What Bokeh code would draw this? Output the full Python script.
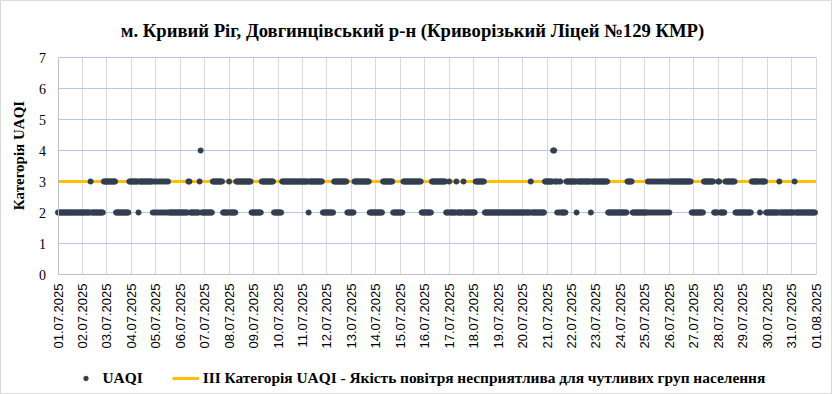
from math import pi
from bokeh.plotting import figure
from bokeh.models import Range1d, FixedTicker, Label, Legend, LegendItem
from bokeh.embed import file_html
from bokeh.resources import INLINE

title_text = "м. Кривий Ріг, Довгинцівський р-н (Криворізький Ліцей №129 КМР)"
y_title = "Категорія UAQI"
series_name = "UAQI"
threshold_name = "III Категорія UAQI - Якість повітря несприятлива для чутливих груп населення"
threshold_value = 3
hours_per_day = 24

date_labels = [
    "01.07.2025", "02.07.2025", "03.07.2025", "04.07.2025", "05.07.2025",
    "06.07.2025", "07.07.2025", "08.07.2025", "09.07.2025", "10.07.2025",
    "11.07.2025", "12.07.2025", "13.07.2025", "14.07.2025", "15.07.2025",
    "16.07.2025", "17.07.2025", "18.07.2025", "19.07.2025", "20.07.2025",
    "21.07.2025", "22.07.2025", "23.07.2025", "24.07.2025", "25.07.2025",
    "26.07.2025", "27.07.2025", "28.07.2025", "29.07.2025", "30.07.2025",
    "31.07.2025", "01.08.2025",
]

y_ticks = [0, 1, 2, 3, 4, 5, 6, 7]

# hourly UAQI category, one string of 24 hourly values per day (spaces only for readability)
uaqi_days = [
    "22222 22222 22222 22222 2222",        # 01.07
    "22222 222 3 22222 22222 22 333",      # 02.07
    "33333 3333 22222 22222 222 33",       # 03.07
    "33333 33 2 33333 33333 333 232",      # 04.07
    "32323 23232 323 22222 22222 2",       # 05.07
    "22222 222 33 22222 2222 3 4 222",     # 06.07
    "22222 222 33333 33333 22222 2",       # 07.07
    "3 22222 2 33333 33333 33333 22",      # 08.07
    "22222 222 33333 33333 33 2222",       # 09.07
    "2222 33333 33333 33333 33333",        # 10.07
    "33333 3 2 33333 33333 333 2222",      # 11.07
    "22222 22 33333 33333 333 2222",       # 12.07
    "222 33333 33333 33333 22222 2",       # 13.07
    "22222 22 33333 33333 22222 22",       # 14.07
    "222 33333 33333 33333 333 222",       # 15.07
    "22222 22 33333 33333 3333 222",       # 16.07
    "3 22222 2 3 22222 2 3 22222 2222",    # 17.07
    "22 33333 3333 22222 22222 222",       # 18.07
    "22222 22222 22222 22222 2222",        # 19.07
    "22222 222 3 22222 22222 222 33",      # 20.07
    "33333 3 44 33 2323 22222 33333",      # 21.07
    "33333 2 33333 33333 333 2 3333",      # 22.07
    "33333 33333 33 22222 22222 22",       # 23.07
    "22222 22 33333 22222 22222 22",       # 24.07
    "222 32323 23232 32323 23232 3",       # 25.07
    "2 33333 33333 33333 33333 3 22",      # 26.07
    "22222 22222 33333 33333 2222",        # 27.07
    "33 22222 33333 33333 22222 22",       # 28.07
    "22222 2222 33333 333 2 33333 2",      # 29.07
    "22222 22222 22 3 22222 22222 2",      # 30.07
    "222 3 22222 22222 22222 22222",       # 31.07
]

day_values = [s.replace(" ", "") for s in uaqi_days]
bad = [i for i, s in enumerate(day_values) if len(s) != hours_per_day]
assert not bad, f"bad day lengths: {[(i, len(day_values[i])) for i in bad]}"
uaqi = [int(c) for s in day_values for c in s]
hours = list(range(len(uaqi)))
n_hours = len(date_labels[:-1]) * hours_per_day
y_max = y_ticks[-1]

SERIF = "'Liberation Serif'"
SANS = "'Liberation Sans'"

# Layout (pixels): the frame fills the whole canvas; the plot area of the
# reference spans x 57.5..815.5 and y 57 (value 7) .. 274 (value 0).
W, H = 832, 394
PX_L, PX_R, PX_TOP, PX_ZERO = 57.5, 815.5, 57, 274
kx = (PX_R - PX_L) / n_hours
ky = (PX_ZERO - PX_TOP) / y_max
x_start, x_end = -PX_L / kx, n_hours + (W - PX_R) / kx
y_start, y_end = -(H - PX_ZERO) / ky, y_max + PX_TOP / ky


def px_to_x(px):
    return (px - PX_L) / kx


def py_to_y(py):
    return (PX_ZERO - py) / ky


p = figure(
    width=W, height=H, output_backend="svg", toolbar_location=None, title=None,
    x_range=Range1d(x_start, x_end), y_range=Range1d(y_start, y_end),
    min_border_left=0, min_border_right=0, min_border_top=0, min_border_bottom=0,
)
p.background_fill_color = "white"
p.border_fill_color = "white"
p.outline_line_color = "#D9D9D9"
p.outline_line_width = 1

tick_pos = [i * hours_per_day for i in range(len(date_labels))]
p.xaxis.fixed_location = 0
p.xaxis.bounds = (0, n_hours)
p.xaxis.ticker = FixedTicker(ticks=tick_pos)
p.xaxis.major_label_overrides = {t: lab for t, lab in zip(tick_pos, date_labels)}
p.xaxis.major_label_orientation = pi / 2
p.xaxis.major_label_text_font = SANS
p.xaxis.major_label_text_font_size = "13px"
p.xaxis.major_label_text_color = "#000000"
p.xaxis.major_label_standoff = 9
p.xaxis.major_tick_out = 0
p.xaxis.major_tick_in = 0
p.xaxis.minor_tick_line_color = None
p.xaxis.axis_line_color = "#BFBFBF"

p.yaxis.fixed_location = 0
p.yaxis.bounds = (0, y_max)
p.yaxis.ticker = FixedTicker(ticks=y_ticks)
p.yaxis.major_label_text_font = SERIF
p.yaxis.major_label_text_font_size = "14px"
p.yaxis.major_label_text_color = "#000000"
p.yaxis.major_label_standoff = 12
p.yaxis.major_tick_out = 0
p.yaxis.major_tick_in = 0
p.yaxis.minor_tick_line_color = None
p.yaxis.axis_line_color = "#BFBFBF"

p.xgrid.ticker = FixedTicker(ticks=tick_pos)
p.xgrid.grid_line_color = "#D9D9D9"
p.xgrid.cross_bounds = (0, y_max)
p.ygrid.ticker = FixedTicker(ticks=y_ticks[1:])
p.ygrid.grid_line_color = "#B4C7E7"
p.ygrid.cross_bounds = (0, n_hours)

thr = p.line(x=[0, n_hours], y=[threshold_value, threshold_value],
             line_color="#FFC000", line_width=3)
pts = p.scatter(x=hours, y=uaqi, marker="circle", size=5.5,
                fill_color="#333F50", line_color="#333F50", line_width=0.5)

legend = Legend(
    items=[LegendItem(label=series_name, renderers=[pts]),
           LegendItem(label=threshold_name, renderers=[thr])],
    location=(71.5, 7), orientation="horizontal",
    label_text_font=SERIF, label_text_font_style="bold",
    label_text_font_size="15.4px", label_text_color="#000000",
    glyph_width=27, glyph_height=12, label_height=12, label_standoff=4, spacing=29,
    padding=0, margin=0, border_line_color=None, background_fill_alpha=0,
)
p.add_layout(legend)

p.add_layout(Label(x=px_to_x(412), y=py_to_y(30), text=title_text,
                   text_align="center", text_baseline="middle",
                   text_font=SERIF, text_font_style="bold", text_font_size="18.65px",
                   text_color="#000000"))
p.add_layout(Label(x=px_to_x(18), y=py_to_y(155), text=y_title, angle=pi / 2,
                   text_align="center", text_baseline="middle",
                   text_font=SERIF, text_font_style="bold", text_font_size="15px",
                   text_color="#000000"))

open("out.html", "w").write(file_html(p, INLINE))
